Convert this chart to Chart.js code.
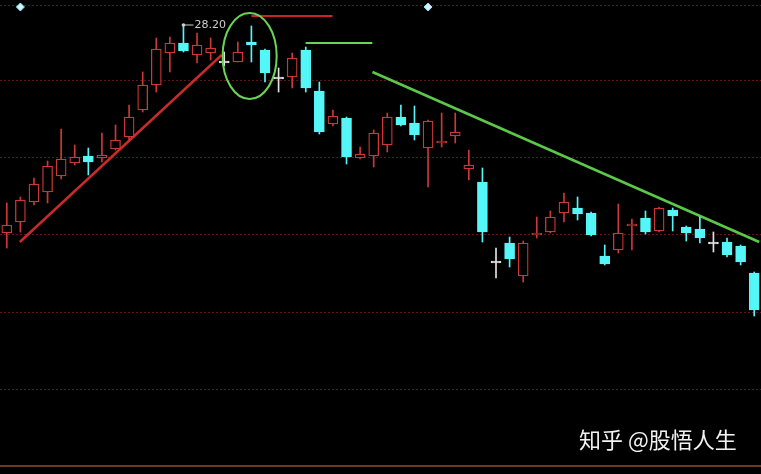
<!DOCTYPE html>
<html>
<head>
<meta charset="utf-8">
<style>
  html, body { margin: 0; padding: 0; background: #000; }
  #wrap { width: 761px; height: 474px; }
</style>
<script src="https://cdn.jsdelivr.net/npm/chart.js@4.4.0/dist/chart.umd.min.js"></script>
</head>
<body>
<div id="wrap"><canvas id="myChart"></canvas></div>
<script>
// daily candles, left to right
const days = Array.from({ length: 56 }, (_, i) => 'D' + (i + 1))
const open = [26.12, 26.23, 26.43, 26.53, 26.69, 26.82, 26.89, 26.87, 26.96, 27.08, 27.35, 27.60, 27.92, 28.02, 27.90, 27.92, 27.83, 27.83, 28.03, 27.95, 27.67, 27.68, 27.95, 27.54, 27.21, 27.27, 26.87, 26.89, 27.00, 27.28, 27.22, 26.97, 27.02, 27.09, 26.76, 26.63, 25.83, 26.02, 25.69, 26.10, 26.13, 26.32, 26.37, 26.32, 25.89, 25.95, 26.19, 26.27, 26.14, 26.35, 26.18, 26.16, 26.02, 26.03, 25.99, 25.72]
const close = [26.20, 26.45, 26.61, 26.79, 26.86, 26.88, 26.83, 26.90, 27.05, 27.28, 27.60, 27.96, 28.02, 27.94, 28.00, 27.97, 27.83, 27.93, 28.00, 27.72, 27.67, 27.87, 27.57, 27.13, 27.29, 26.88, 26.91, 27.12, 27.28, 27.20, 27.10, 27.24, 27.04, 27.13, 26.80, 26.13, 25.83, 25.86, 26.02, 26.12, 26.28, 26.43, 26.31, 26.10, 25.81, 26.12, 26.21, 26.13, 26.37, 26.29, 26.12, 26.07, 26.02, 25.90, 25.83, 25.35]
const high = [26.42, 26.48, 26.67, 26.84, 27.16, 27.00, 26.97, 27.12, 27.20, 27.40, 27.73, 28.07, 28.08, 28.20, 28.12, 28.07, 27.93, 28.03, 28.19, 27.96, 27.77, 27.92, 27.98, 27.63, 27.35, 27.28, 26.98, 27.15, 27.32, 27.40, 27.39, 27.25, 27.32, 27.32, 26.95, 26.77, 25.97, 26.08, 26.04, 26.28, 26.34, 26.52, 26.48, 26.33, 26.00, 26.41, 26.26, 26.34, 26.38, 26.37, 26.19, 26.28, 26.13, 26.07, 26.00, 25.73]
const low = [25.97, 26.13, 26.40, 26.42, 26.66, 26.80, 26.70, 26.83, 26.95, 27.05, 27.33, 27.53, 27.73, 27.93, 27.82, 27.85, 27.79, 27.83, 27.83, 27.63, 27.53, 27.57, 27.53, 27.11, 27.19, 26.81, 26.86, 26.78, 26.93, 27.19, 27.05, 26.58, 26.98, 27.02, 26.65, 26.03, 25.67, 25.78, 25.63, 26.07, 26.12, 26.23, 26.25, 26.09, 25.80, 25.92, 25.95, 26.11, 26.13, 26.14, 26.04, 26.02, 25.93, 25.88, 25.80, 25.29]

// price levels of the dotted grid lines
const gridLevels = [24.56, 25.33, 26.10, 26.88, 27.65, 28.40]

// hand drawn lines (x = candle index)
const redTrend = [{ x: 0.96, y: 26.03 }, { x: 15.81, y: 27.90 }]
const redLevel = [{ x: 18.0, y: 28.29 }, { x: 23.97, y: 28.29 }]
const greenLevel = [{ x: 21.99, y: 28.02 }, { x: 26.9, y: 28.02 }]
const greenTrend = [{ x: 26.91, y: 27.73 }, { x: 55.37, y: 26.03 }]
const markers = [{ x: 1, y: 28.38 }, { x: 31, y: 28.38 }]

const upColor = '#cc3838'
const downColor = '#55f6f8'
const dojiColor = '#e2e2e2'

function candleColor(i) {
    if (close[i] > open[i]) return upColor
    if (close[i] < open[i]) return downColor
    return dojiColor
}

const colors = open.map((o, i) => candleColor(i))
const bodies = open.map((o, i) => o === close[i] ? [o - 0.01, o + 0.01] : [o, close[i]])
const wicks = low.map((l, i) => [l, high[i]])

const extras = {
    id: 'extras',
    beforeDraw(chart) {
        const ctx = chart.ctx
        ctx.save()
        ctx.fillStyle = '#000'
        ctx.fillRect(0, 0, chart.width, chart.height)
        ctx.restore()
    },
    afterDatasetsDraw(chart) {
        const ctx = chart.ctx
        const xs = chart.scales.xl
        const ys = chart.scales.y
        ctx.save()

        // circle round the top
        const cx = xs.getPixelForValue(17.87)
        const cy = ys.getPixelForValue(27.89)
        const rx = xs.getPixelForValue(17.87 + 1.99) - cx
        const ry = cy - ys.getPixelForValue(27.89 + 0.43)
        ctx.strokeStyle = '#6ad456'
        ctx.lineWidth = 2
        ctx.beginPath()
        ctx.ellipse(cx, cy, rx, ry, 0, 0, Math.PI * 2)
        ctx.stroke()

        // highest price marker
        let top = 0
        high.forEach((h, i) => { if (h > high[top]) top = i })
        const px = chart.scales.x.getPixelForValue(top)
        const py = ys.getPixelForValue(high[top])
        ctx.strokeStyle = '#cfcfcf'
        ctx.fillStyle = '#cfcfcf'
        ctx.lineWidth = 1
        ctx.beginPath()
        ctx.moveTo(px, py)
        ctx.lineTo(px + 10, py)
        ctx.stroke()
        ctx.beginPath()
        ctx.arc(px, py, 1.8, 0, Math.PI * 2)
        ctx.fill()
        ctx.font = '11px "DejaVu Sans"'
        ctx.textBaseline = 'middle'
        ctx.fillText(high[top].toFixed(2), px + 11, py)

        // bottom border
        ctx.strokeStyle = '#6b3a1c'
        ctx.lineWidth = 2
        ctx.beginPath()
        ctx.moveTo(0, chart.chartArea.bottom)
        ctx.lineTo(chart.width, chart.chartArea.bottom)
        ctx.stroke()

        // watermark
        ctx.fillStyle = '#f2f2f2'
        ctx.font = '22px "Noto Sans CJK SC"'
        ctx.textBaseline = 'middle'
        ctx.fillText('知乎 @股悟人生', 579, 440)
        ctx.restore()
    }
}

new Chart(document.getElementById('myChart').getContext('2d'), {
    type: 'bar',
    data: {
        labels: days,
        datasets: [{
            data: bodies,
            backgroundColor: colors.map(c => c === upColor ? '#000' : c),
            borderColor: colors,
            borderWidth: 1.3,
            borderSkipped: false,
            barThickness: 10,
            grouped: false
        },
        {
            data: wicks,
            backgroundColor: colors,
            borderWidth: 0,
            barThickness: 1,
            grouped: false
        },
        {
            type: 'line',
            xAxisID: 'xl',
            data: redTrend,
            borderColor: '#c92a2a',
            borderWidth: 2.5,
            pointRadius: 0
        },
        {
            type: 'line',
            xAxisID: 'xl',
            data: redLevel,
            borderColor: '#c92424',
            borderWidth: 2,
            pointRadius: 0
        },
        {
            type: 'line',
            xAxisID: 'xl',
            data: greenLevel,
            borderColor: '#6ad456',
            borderWidth: 2,
            pointRadius: 0
        },
        {
            type: 'line',
            xAxisID: 'xl',
            data: greenTrend,
            borderColor: '#5cc84a',
            borderWidth: 2.5,
            pointRadius: 0
        },
        {
            type: 'line',
            xAxisID: 'xl',
            data: markers,
            showLine: false,
            pointStyle: 'rectRot',
            pointRadius: 4,
            pointBackgroundColor: '#cdf4ff',
            pointBorderColor: '#8fe6ff',
            pointBorderWidth: 1
        }
        ]
    },
    options: {
        responsive: true,
        maintainAspectRatio: false,
        animation: false,
        layout: { autoPadding: false, padding: { top: 0, left: 0, right: 0, bottom: 8 } },
        plugins: {
            legend: { display: false },
            tooltip: { enabled: false }
        },
        scales: {
            x: { display: false, offset: true },
            xl: { type: 'linear', display: false, offset: false, grid: { offset: false }, min: -0.5, max: 55.5 },
            y: {
                min: 23.79,
                max: 28.45,
                afterBuildTicks: s => { s.ticks = gridLevels.map(v => ({ value: v })) },
                afterFit: s => { s.width = 0 },
                ticks: { display: false },
                border: { display: false, dash: [2, 2] },
                grid: { color: 'rgba(130, 28, 28, 0.75)', lineWidth: 1, drawTicks: false }
            }
        }
    },
    plugins: [extras]
})
</script>
</body>
</html>
